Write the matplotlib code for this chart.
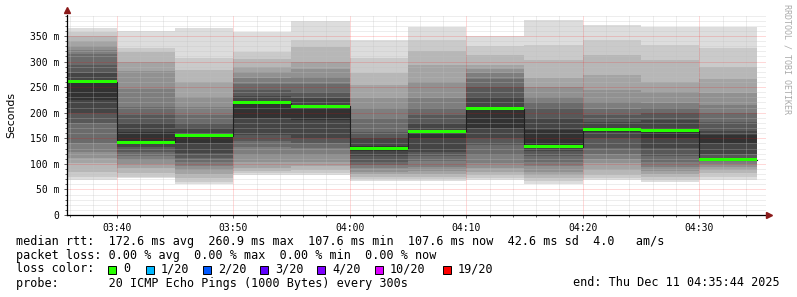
import datetime
import numpy as np
import matplotlib
matplotlib.use("Agg")
import matplotlib.pyplot as plt
import matplotlib.dates as mdates
from matplotlib.patches import Rectangle

# 5 minute steps, 20 pings each (sorted, ms)
step_starts = ["03:35", "03:40", "03:45", "03:50", "03:55", "04:00",
               "04:05", "04:10", "04:15", "04:20", "04:25", "04:30"]
pings = [
    [68.5, 75, 85, 101, 111, 124, 141, 180, 200, 225, 262, 277, 294, 314, 322, 331, 340, 349, 358, 366],
    [71.7, 75, 81.5, 91.3, 100, 107.6, 116, 123.9, 133, 143.4, 163, 179.3, 195.6, 211.9, 246.4, 281.6, 299.8, 318.1, 325.9, 359.8],
    [60.6, 64, 71.7, 80, 88, 96, 104.3, 112, 120.6, 140, 156.5, 170, 179.3, 195, 211.9, 231.4, 260, 283.5, 306.4, 366.3],
    [79, 82, 86, 92, 104.3, 118, 133.6, 145, 156.5, 190, 221, 232, 244.5, 256, 267.3, 280, 290, 305, 319.4, 358],
    [79, 82, 88, 96, 104.3, 118, 130.4, 140, 150, 185, 215.1, 228, 241.2, 256, 270.5, 285, 299.8, 329.2, 342.2, 379.4],
    [67, 70, 75, 80, 85, 92, 98, 104.3, 115, 125, 135, 150, 163, 190, 210, 228.2, 255, 277, 306.4, 342.2],
    [67, 70, 75, 80, 86, 94.5, 105, 115, 124, 150, 166.2, 180, 195.6, 210, 228.2, 260, 293.3, 320, 342.2, 368.3],
    [68, 72, 78, 84.8, 92, 101, 118, 136.9, 150, 169.5, 208.6, 230, 251, 265, 277, 285, 293.3, 312.9, 330, 350.7],
    [61, 66, 72, 78, 85, 95, 104.3, 115, 125, 135, 166.2, 190, 208.6, 220, 231.4, 250, 267.3, 303.1, 332.4, 381.3],
    [68.4, 72, 78.3, 88, 101, 110, 120, 130.4, 150, 162, 169.5, 182, 195.6, 208, 221.6, 244.5, 273.8, 312.9, 342.2, 371.5],
    [65, 69, 74, 80, 86, 94, 104.3, 115, 130.4, 150, 170, 185, 198.8, 210, 218.4, 240, 260.7, 303.1, 332.4, 368.3],
    [68.4, 75, 82, 88, 94, 100, 106, 112, 120, 140, 156.5, 165, 182.5, 200, 215, 238, 265, 290.1, 325.9, 368.3],
]
medians = [260.9, 142.7, 154.5, 219.6, 213.0, 130.4, 163.6, 207.3, 133.6, 166.2, 164.3, 107.6]

loss_labels = ["0", "1/20", "2/20", "3/20", "4/20", "10/20", "19/20"]
loss_colors = ["#26ff00", "#00b8ff", "#0059ff", "#5e00ff", "#7e00ff", "#dd00ff", "#ff0000"]

W, H = 797, 297
fig = plt.figure(figsize=(W / 100, H / 100), dpi=100)
fig.patch.set_facecolor("white")
ax = fig.add_axes([67 / W, 1 - 215 / H, 699 / W, (215 - 14.5) / H])

day = datetime.date(2025, 12, 11)
starts = [datetime.datetime.combine(day, datetime.datetime.strptime(s, "%H:%M").time()) for s in step_starts]
x0 = mdates.date2num(starts)
width = 5 / 1440.0
p = np.array(pings)

# smoke layers, outer (light) to inner (dark)
half = 10
for i in range(half):
    g = int(190 / half * (half - (i + 1))) + 50
    ax.bar(x0, p[:, 19 - i] - p[:, i], bottom=p[:, i], width=width, align="edge",
           color="#%02x%02x%02x" % (g, g, g), linewidth=0, antialiased=False, zorder=2)

# median step line + loss coloured band
edges = np.append(x0, x0[-1] + width)
ax.step(edges, np.append(medians, medians[-1]), where="post", color="#202020", lw=0.8, zorder=3)
hw = 1.5 / 0.5114
ax.bar(x0, 2 * hw, bottom=np.array(medians) - hw, width=width, align="edge",
       color=loss_colors[0], linewidth=0, antialiased=False, zorder=4)

t_start = datetime.datetime(2025, 12, 11, 3, 35, 44)
t_end = datetime.datetime(2025, 12, 11, 4, 35, 44)
ax.set_xlim(t_start, t_end)
ax.set_ylim(0, 392)

ax.xaxis.set_major_locator(mdates.MinuteLocator(byminute=range(0, 60, 10)))
ax.xaxis.set_minor_locator(mdates.MinuteLocator(byminute=range(0, 60, 2)))
ax.xaxis.set_major_formatter(mdates.DateFormatter("%H:%M"))
ax.yaxis.set_major_locator(plt.MultipleLocator(50))
ax.yaxis.set_minor_locator(plt.MultipleLocator(10))
ax.yaxis.set_major_formatter(plt.FuncFormatter(lambda v, _: "0" if v == 0 else "%d m" % v))

ax.grid(which="minor", color="#c0c0c0", alpha=0.55, linestyle=(0, (1, 1)), lw=0.72, zorder=5)
ax.grid(which="major", color="#ff0000", alpha=0.3, linestyle=(0, (1, 1)), lw=0.72, zorder=5)
ax.set_axisbelow(False)

for s in ["top", "right"]:
    ax.spines[s].set_visible(False)
for s in ["left", "bottom"]:
    ax.spines[s].set_color("#000000")
    ax.spines[s].set_linewidth(0.9)
    ax.spines[s].set_zorder(6)
ax.tick_params(which="both", direction="out", color="#444444", width=0.6)
ax.tick_params(which="major", length=2.5, labelsize=7, pad=3)
ax.tick_params(which="minor", length=1.5)
for lab in ax.get_xticklabels() + ax.get_yticklabels():
    lab.set_fontfamily("DejaVu Sans Mono")

ax.set_ylabel("Seconds", fontsize=7.8, labelpad=10)

# axis arrows
ax.plot([0], [1.02], marker="^", ms=4, color="#8b1a1a", transform=ax.transAxes, clip_on=False, zorder=7)
ax.plot([1.004], [0], marker=">", ms=4, color="#8b1a1a", transform=ax.transAxes, clip_on=False, zorder=7)
ax.plot([1.0, 1.004], [0, 0], color="#000000", lw=0.9, transform=ax.transAxes, clip_on=False)


def fx(x):
    return x / W


def fy(y):
    return 1 - y / H


fig.text(fx(787), fy(4), "RRDTOOL / TOBI OETIKER", rotation=270, fontsize=6,
         color="#aaaaaa", ha="center", va="top", family="DejaVu Sans Mono")

mono = dict(family="DejaVu Sans Mono", fontsize=8.5, va="center", color="#000000")
fig.text(fx(16), fy(241), "median rtt:  172.6 ms avg  260.9 ms max  107.6 ms min  107.6 ms now  42.6 ms sd  4.0   am/s", **mono)
fig.text(fx(16), fy(255), "packet loss: 0.00 % avg  0.00 % max  0.00 % min  0.00 % now", **mono)
fig.text(fx(16), fy(269), "loss color:", **mono)
sw_x = [108, 146, 203, 260, 317, 375, 443]
for xs, lab, col in zip(sw_x, loss_labels, loss_colors):
    fig.add_artist(Rectangle((fx(xs), fy(273.5)), 8 / W, 8 / H, transform=fig.transFigure,
                             facecolor=col, edgecolor="#000000", lw=0.7))
    fig.text(fx(xs + 15), fy(269), lab, **mono)
fig.text(fx(16), fy(283), "probe:       20 ICMP Echo Pings (1000 Bytes) every 300s", **mono)
fig.text(fx(780), fy(283), "end: Thu Dec 11 04:35:44 2025", ha="right", **mono)

fig.savefig("out.png", dpi=100, facecolor="white")
